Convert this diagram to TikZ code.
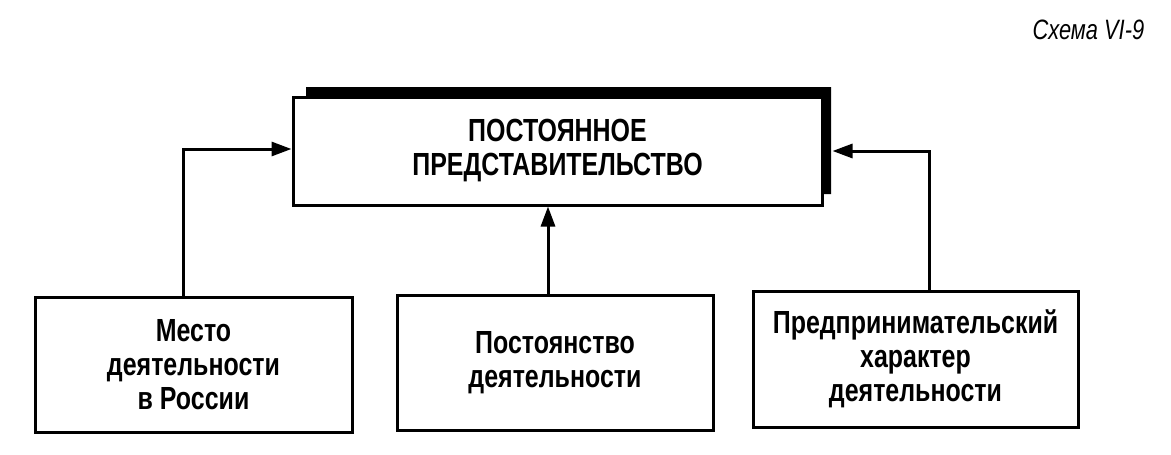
\documentclass[tikz,border=0pt]{standalone}
\usepackage{fontspec}
\setmainfont{Liberation Sans}[FakeStretch=0.78]
\usetikzlibrary{arrows.meta, positioning}
\tikzset{
  every picture/.style={line width=3pt, x=1pt, y=-1pt},
  box/.style={draw=black, fill=white, align=center, inner sep=0pt, font=\fontsize{32}{34}\selectfont\bfseries},
  arrow/.style={-{Triangle[length=20pt, width=14pt]}, draw=black, line width=3pt},
  title/.style={font=\fontsize{28}{30}\selectfont\itshape},
}
\begin{document}
\begin{tikzpicture}
  \useasboundingbox (0,0) rectangle (1171,455);
  \node[title, anchor=east] (scheme) at (1149,30) {Схема VI-9};
  \fill[black] (306,87) -- (831,87) -- (831,194) -- (822,194) -- (822,97) -- (306,97) -- cycle;
  \node[box, minimum width=529pt, minimum height=108pt] (post) at (557.5,151) {ПОСТОЯННОЕ\\ПРЕДСТАВИТЕЛЬСТВО};
  \node[box, minimum width=317pt, minimum height=135pt] (mesto) at (193.5,364.5) {Место\\деятельности\\в России};
  \node[box, minimum width=316pt, minimum height=135pt] (pstv) at (555,362.5) {Постоянство\\деятельности};
  \node[box, minimum width=325pt, minimum height=136pt] (harakter) at (915.5,359) {Предпринимательский\\характер\\деятельности};
  \draw[arrow] ([xshift=-10]mesto.north) |- ([yshift=2]post.west);
  \draw[arrow] ([xshift=-7]pstv.north) -- ([xshift=-7]pstv.north |- post.south);
  \draw[arrow] ([xshift=14]harakter.north) |- ([xshift=9]post.east);
\end{tikzpicture}
\end{document}
